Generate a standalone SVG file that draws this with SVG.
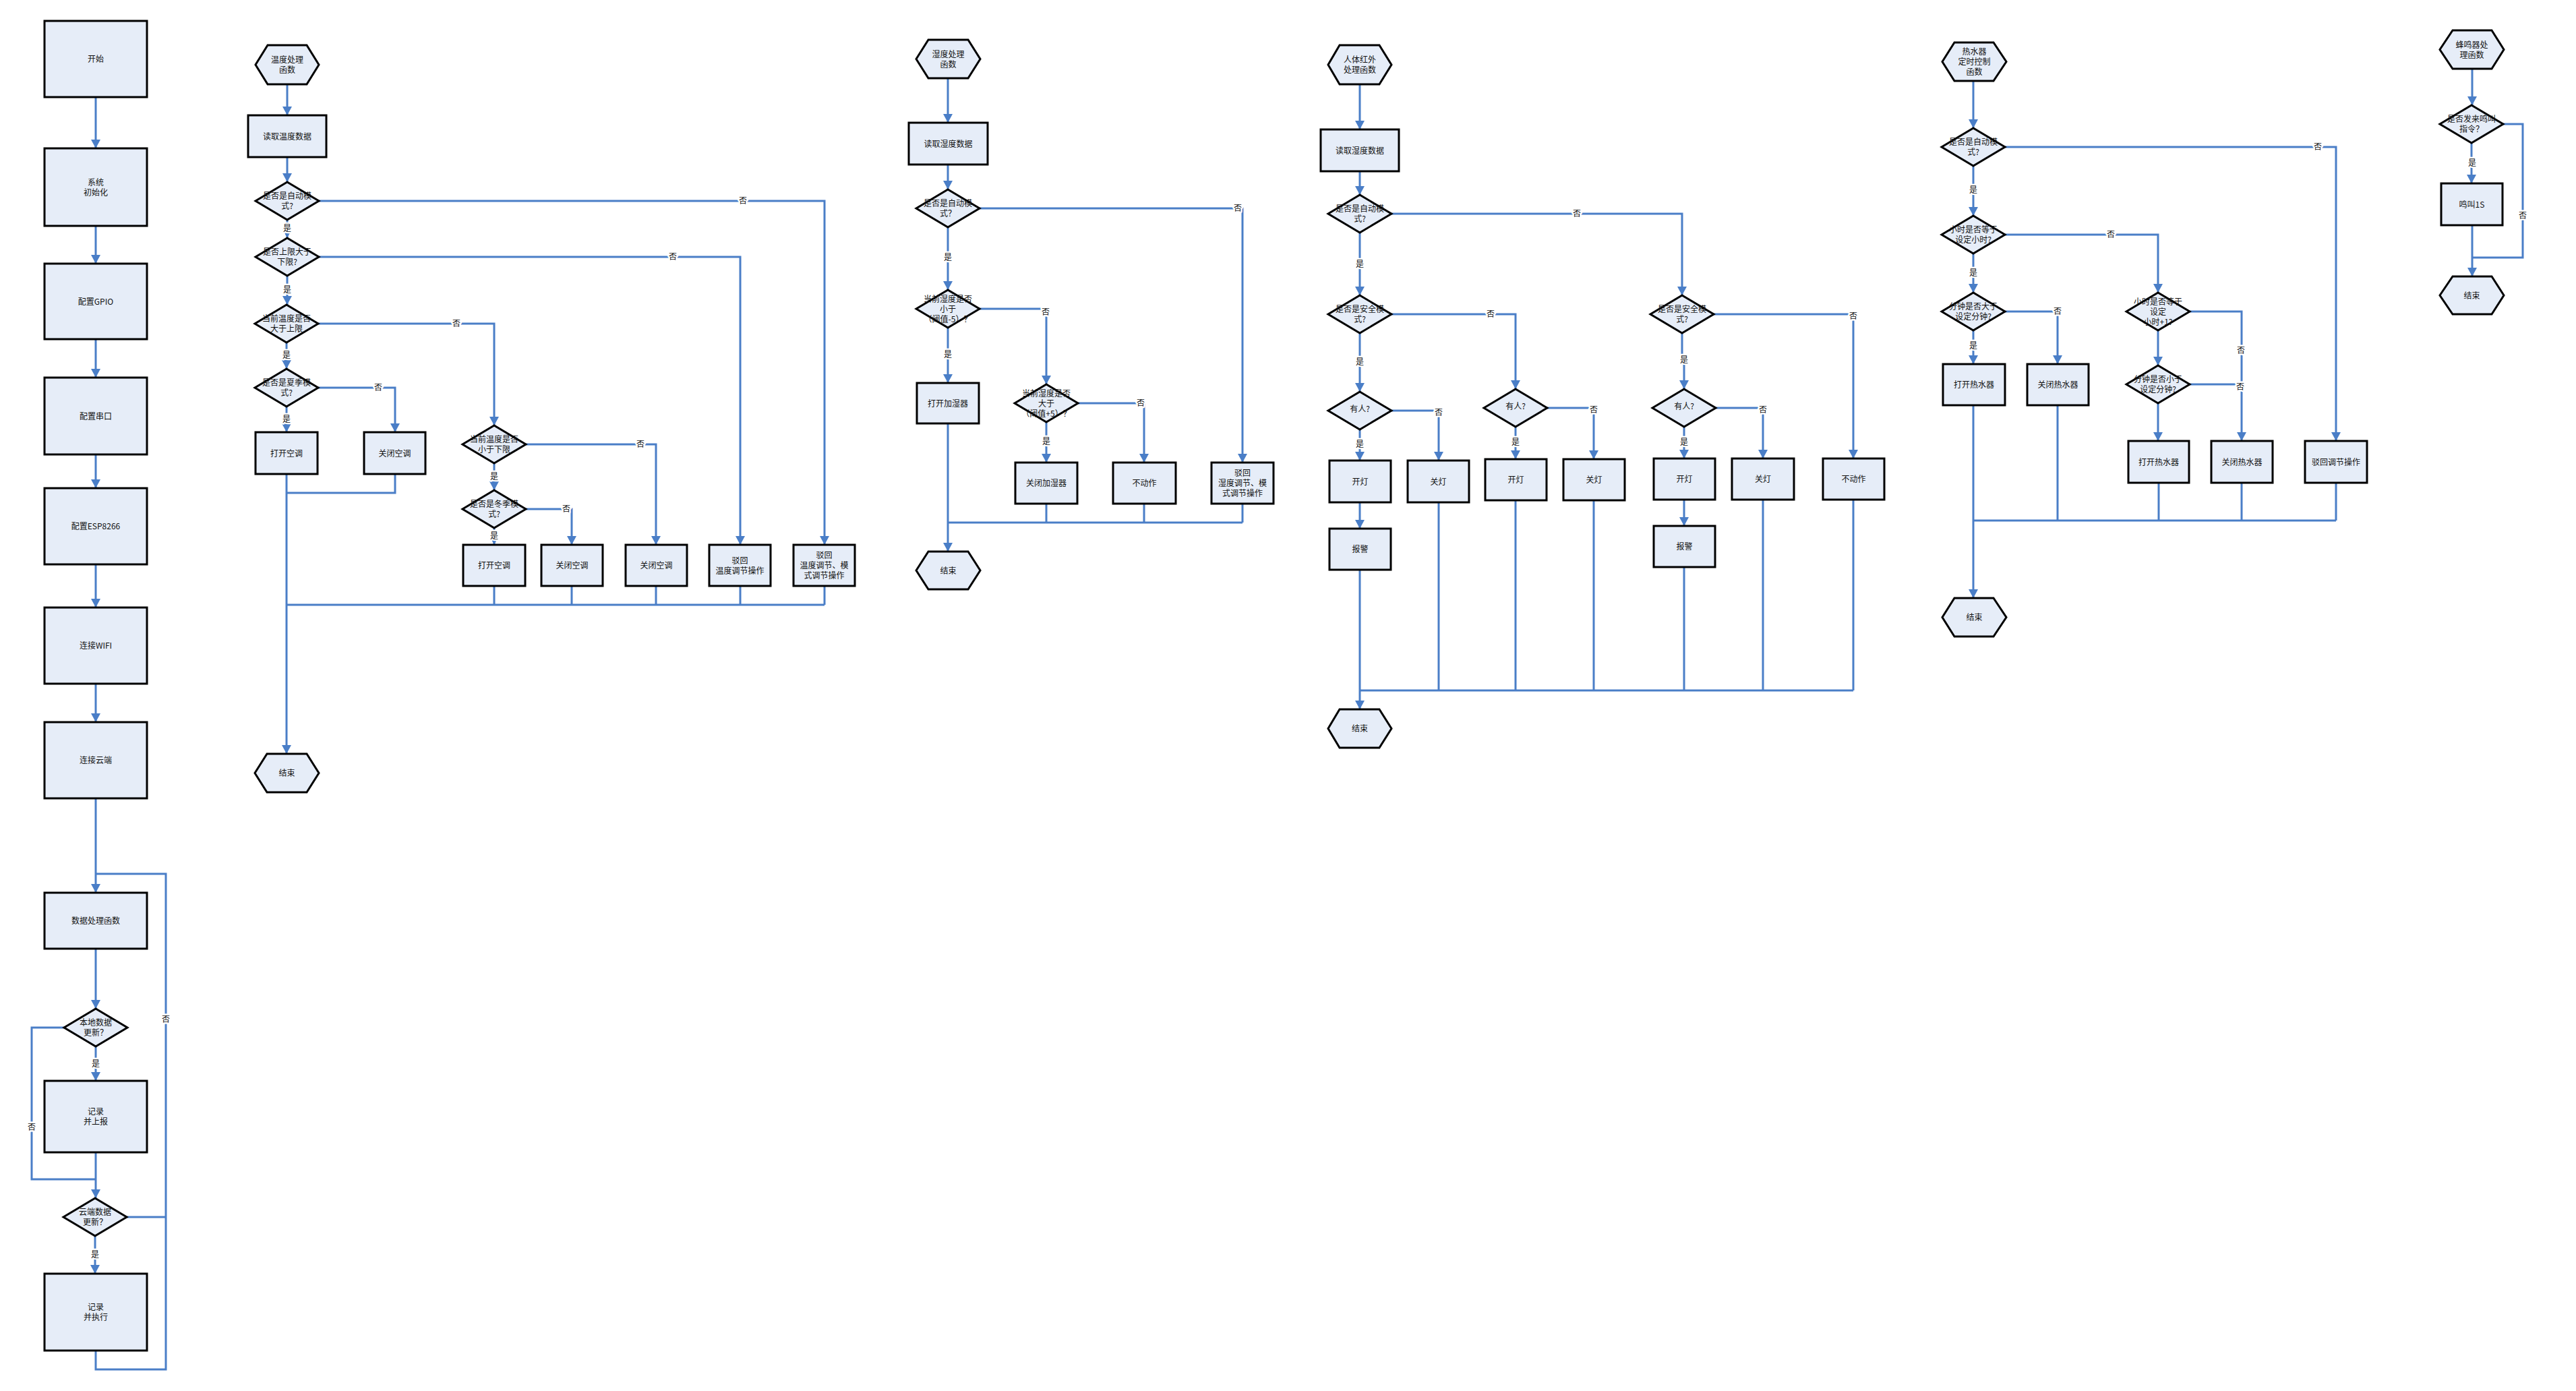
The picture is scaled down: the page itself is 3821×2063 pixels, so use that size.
<svg xmlns="http://www.w3.org/2000/svg" width="3821" height="2063" viewBox="0 0 3821 2063">
<style>
.box,.dec,.term{fill:#E6EDF8;stroke:#000;stroke-width:3;stroke-linejoin:miter}
.t{font-family:"Noto Sans CJK SC","Noto Sans",sans-serif;font-size:12px;fill:#111;text-anchor:middle}
.c{fill:none;stroke:#4A7EC7;stroke-width:3}
.ca{fill:none;stroke:#4A7EC7;stroke-width:3;marker-end:url(#ah)}
.lbl{font-family:"Noto Sans CJK SC","Noto Sans",sans-serif;font-size:12px;fill:#111;text-anchor:middle;paint-order:stroke;stroke:#fff;stroke-width:5px;stroke-linejoin:round}
</style>
<defs>
<marker id="ah" markerUnits="userSpaceOnUse" markerWidth="14" markerHeight="14" refX="13" refY="7" orient="auto"><path d="M0,0 L13,7 L0,14 z" fill="#4A7EC7"/></marker>
</defs>
<rect width="3821" height="2063" fill="#fff"/>

<g id="connectors">
<!-- main column -->
<path class="ca" d="M142,144 V220"/>
<path class="ca" d="M142,335 V391"/>
<path class="ca" d="M142,503 V560"/>
<path class="ca" d="M142,674 V724"/>
<path class="ca" d="M142,837 V901"/>
<path class="ca" d="M142,1014 V1071"/>
<path class="ca" d="M142,1184 V1324"/>
<path class="c" d="M142,2003 V2031 H246 V1296 H142"/>
<path class="c" d="M188,1805 H246"/>
<path class="ca" d="M142,1407 V1496"/>
<path class="ca" d="M142,1552 V1603"/>
<path class="c" d="M95,1524 H47 V1749 H142"/>
<path class="ca" d="M142,1709 V1777"/>
<path class="ca" d="M141,1833 V1889"/>
<text class="lbl" x="246" y="1516">否</text>
<text class="lbl" x="142" y="1582">是</text>
<text class="lbl" x="47" y="1676">否</text>
<text class="lbl" x="141" y="1865">是</text>

<!-- temperature -->
<path class="ca" d="M426,125 V171"/>
<path class="ca" d="M426,233 V270"/>
<path class="ca" d="M473,298 H1223 V808"/>
<path class="ca" d="M426,326 V353"/>
<path class="ca" d="M473,381 H1098 V808"/>
<path class="ca" d="M426,409 V452"/>
<path class="ca" d="M472,480 H733 V631"/>
<path class="ca" d="M425,508 V547"/>
<path class="ca" d="M472,575 H586 V641"/>
<path class="ca" d="M425,603 V641"/>
<path class="ca" d="M780,659 H973 V808"/>
<path class="ca" d="M733,687 V727"/>
<path class="ca" d="M780,755 H848 V808"/>
<path class="ca" d="M733,783 V808"/>
<path class="c" d="M586,703 V731 H425"/>
<path class="ca" d="M425,703 V1118"/>
<path class="c" d="M425,897 H1223 M733,869 V897 M848,869 V897 M973,869 V897 M1098,869 V897 M1223,869 V897"/>
<text class="lbl" x="1102" y="302">否</text>
<text class="lbl" x="426" y="343">是</text>
<text class="lbl" x="998" y="385">否</text>
<text class="lbl" x="426" y="434">是</text>
<text class="lbl" x="677" y="484">否</text>
<text class="lbl" x="425" y="531">是</text>
<text class="lbl" x="561" y="579">否</text>
<text class="lbl" x="425" y="626">是</text>
<text class="lbl" x="950" y="663">否</text>
<text class="lbl" x="733" y="711">是</text>
<text class="lbl" x="840" y="759">否</text>
<text class="lbl" x="733" y="799">是</text>

<!-- humidity -->
<path class="ca" d="M1406,116 V182"/>
<path class="ca" d="M1406,244 V281"/>
<path class="ca" d="M1453,309 H1843 V686"/>
<path class="ca" d="M1406,337 V430"/>
<path class="ca" d="M1453,458 H1552 V570"/>
<path class="ca" d="M1406,486 V568"/>
<path class="ca" d="M1599,598 H1697 V686"/>
<path class="ca" d="M1552,626 V686"/>
<path class="ca" d="M1406,628 V818"/>
<path class="c" d="M1406,775 H1843 M1552,747 V775 M1697,747 V775 M1843,747 V775"/>
<text class="lbl" x="1836" y="313">否</text>
<text class="lbl" x="1406" y="386">是</text>
<text class="lbl" x="1551" y="467">否</text>
<text class="lbl" x="1406" y="530">是</text>
<text class="lbl" x="1692" y="602">否</text>
<text class="lbl" x="1552" y="659">是</text>

<!-- PIR -->
<path class="ca" d="M2017,125 V192"/>
<path class="ca" d="M2017,254 V289"/>
<path class="ca" d="M2064,317 H2495 V438"/>
<path class="ca" d="M2017,345 V438"/>
<path class="ca" d="M2064,466 H2248 V577"/>
<path class="ca" d="M2017,494 V581"/>
<path class="ca" d="M2542,466 H2749 V680"/>
<path class="ca" d="M2495,494 V528 H2498 V577"/>
<path class="ca" d="M2064,609 H2134 V683"/>
<path class="ca" d="M2017,637 V683"/>
<path class="ca" d="M2295,605 H2364 V681"/>
<path class="ca" d="M2248,633 V681"/>
<path class="ca" d="M2545,605 H2615 V680"/>
<path class="ca" d="M2498,633 V680"/>
<path class="ca" d="M2017,745 V784"/>
<path class="ca" d="M2498,741 V780"/>
<path class="ca" d="M2017,845 V1052"/>
<path class="c" d="M2017,1024 H2749 M2134,745 V1024 M2248,742 V1024 M2364,742 V1024 M2498,841 V1024 M2615,741 V1024 M2749,741 V1024"/>
<text class="lbl" x="2339" y="321">否</text>
<text class="lbl" x="2017" y="396">是</text>
<text class="lbl" x="2211" y="470">否</text>
<text class="lbl" x="2017" y="541">是</text>
<text class="lbl" x="2749" y="473">否</text>
<text class="lbl" x="2498" y="538">是</text>
<text class="lbl" x="2134" y="616">否</text>
<text class="lbl" x="2017" y="663">是</text>
<text class="lbl" x="2364" y="612">否</text>
<text class="lbl" x="2248" y="660">是</text>
<text class="lbl" x="2615" y="612">否</text>
<text class="lbl" x="2498" y="660">是</text>

<!-- water heater -->
<path class="ca" d="M2927,120 V190"/>
<path class="ca" d="M2974,218 H3465 V654"/>
<path class="ca" d="M2927,246 V320"/>
<path class="ca" d="M2974,348 H3201 V434"/>
<path class="ca" d="M2927,376 V434"/>
<path class="ca" d="M2974,462 H3052 V540"/>
<path class="ca" d="M2927,490 V540"/>
<path class="ca" d="M3201,490 V542"/>
<path class="ca" d="M3248,462 H3325 V654"/>
<path class="c" d="M3248,570 H3325"/>
<path class="ca" d="M3201,598 V654"/>
<path class="ca" d="M2927,601 V887"/>
<path class="c" d="M2927,772 H3465 M3052,601 V772 M3202,716 V772 M3325,716 V772 M3465,716 V772"/>
<text class="lbl" x="3438" y="222">否</text>
<text class="lbl" x="2927" y="286">是</text>
<text class="lbl" x="3131" y="352">否</text>
<text class="lbl" x="2927" y="409">是</text>
<text class="lbl" x="3052" y="466">否</text>
<text class="lbl" x="2927" y="517">是</text>
<text class="lbl" x="3324" y="524">否</text>
<text class="lbl" x="3323" y="578">否</text>

<!-- buzzer -->
<path class="ca" d="M3667,102 V156"/>
<path class="ca" d="M3666,212 V272"/>
<path class="c" d="M3713,184 H3742 V382 H3667"/>
<path class="ca" d="M3667,334 V410"/>
<text class="lbl" x="3667" y="246">是</text>
<text class="lbl" x="3742" y="324">否</text>
</g>

<!-- main column nodes -->
<g id="n_start"><rect class="box" x="66" y="31" width="152" height="113"/><text class="t" x="142" y="92">开始</text></g>
<g id="n_init"><rect class="box" x="66" y="220" width="152" height="115"/><text class="t"><tspan x="142" y="274.5">系统</tspan><tspan x="142" y="289.5">初始化</tspan></text></g>
<g id="n_gpio"><rect class="box" x="66" y="391" width="152" height="112"/><text class="t" x="142" y="451.5">配置GPIO</text></g>
<g id="n_uart"><rect class="box" x="66" y="560" width="152" height="114"/><text class="t" x="142" y="621.5">配置串口</text></g>
<g id="n_esp"><rect class="box" x="66" y="724" width="152" height="113"/><text class="t" x="142" y="785">配置ESP8266</text></g>
<g id="n_wifi"><rect class="box" x="66" y="901" width="152" height="113"/><text class="t" x="142" y="962">连接WIFI</text></g>
<g id="n_cloud"><rect class="box" x="66" y="1071" width="152" height="113"/><text class="t" x="142" y="1132">连接云端</text></g>
<g id="n_proc"><rect class="box" x="66" y="1324" width="152" height="83"/><text class="t" x="142" y="1370">数据处理函数</text></g>
<g id="n_local"><polygon class="dec" points="95,1524 142,1496 189,1524 142,1552"/><text class="t"><tspan x="142" y="1521">本地数据</tspan><tspan x="142" y="1536">更新？</tspan></text></g>
<g id="n_report"><rect class="box" x="66" y="1603" width="152" height="106"/><text class="t"><tspan x="142" y="1653">记录</tspan><tspan x="142" y="1668">并上报</tspan></text></g>
<g id="n_cloudq"><polygon class="dec" points="94,1805 141,1777 188,1805 141,1833"/><text class="t"><tspan x="141" y="1802">云端数据</tspan><tspan x="141" y="1817">更新？</tspan></text></g>
<g id="n_exec"><rect class="box" x="66" y="1889" width="152" height="114"/><text class="t"><tspan x="142" y="1943">记录</tspan><tspan x="142" y="1958">并执行</tspan></text></g>

<!-- temperature nodes -->
<g id="t_start"><polygon class="term" points="379,96 397,67 455,67 473,96 455,125 397,125"/><text class="t"><tspan x="426" y="93">温度处理</tspan><tspan x="426" y="108">函数</tspan></text></g>
<g id="t_read"><rect class="box" x="368" y="171" width="116" height="62"/><text class="t" x="426" y="206.5">读取温度数据</text></g>
<g id="t_auto"><polygon class="dec" points="379,298 426,270 473,298 426,326"/><text class="t"><tspan x="426" y="295">是否是自动模</tspan><tspan x="426" y="310">式?</tspan></text></g>
<g id="t_lim"><polygon class="dec" points="379,381 426,353 473,381 426,409"/><text class="t"><tspan x="426" y="378">是否上限大于</tspan><tspan x="426" y="393">下限?</tspan></text></g>
<g id="t_gt"><polygon class="dec" points="378,480 425,452 472,480 425,508"/><text class="t"><tspan x="425" y="477">当前温度是否</tspan><tspan x="425" y="492">大于上限</tspan></text></g>
<g id="t_summer"><polygon class="dec" points="378,575 425,547 472,575 425,603"/><text class="t"><tspan x="425" y="572">是否是夏季模</tspan><tspan x="425" y="587">式?</tspan></text></g>
<g id="t_on1"><rect class="box" x="379" y="641" width="92" height="62"/><text class="t" x="425" y="676.5">打开空调</text></g>
<g id="t_off1"><rect class="box" x="540" y="641" width="91" height="62"/><text class="t" x="585.5" y="676.5">关闭空调</text></g>
<g id="t_lt"><polygon class="dec" points="686,659 733,631 780,659 733,687"/><text class="t"><tspan x="733" y="656">当前温度是否</tspan><tspan x="733" y="671">小于下限</tspan></text></g>
<g id="t_winter"><polygon class="dec" points="686,755 733,727 780,755 733,783"/><text class="t"><tspan x="733" y="752">是否是冬季模</tspan><tspan x="733" y="767">式?</tspan></text></g>
<g id="t_on2"><rect class="box" x="687" y="808" width="92" height="61"/><text class="t" x="733" y="843">打开空调</text></g>
<g id="t_off2"><rect class="box" x="803" y="808" width="91" height="61"/><text class="t" x="848.5" y="843">关闭空调</text></g>
<g id="t_off3"><rect class="box" x="928" y="808" width="91" height="61"/><text class="t" x="973.5" y="843">关闭空调</text></g>
<g id="t_rej1"><rect class="box" x="1052" y="808" width="91" height="61"/><text class="t"><tspan x="1097.5" y="835.5">驳回</tspan><tspan x="1097.5" y="850.5">温度调节操作</tspan></text></g>
<g id="t_rej2"><rect class="box" x="1177" y="808" width="91" height="61"/><text class="t"><tspan x="1222.5" y="828">驳回</tspan><tspan x="1222.5" y="843">温度调节、模</tspan><tspan x="1222.5" y="858">式调节操作</tspan></text></g>
<g id="t_end"><polygon class="term" points="378,1146.5 396,1118 455,1118 473,1146.5 455,1175 396,1175"/><text class="t" x="425.5" y="1151">结束</text></g>

<!-- humidity nodes -->
<g id="h_start"><polygon class="term" points="1359,87.5 1377,59 1436,59 1454,87.5 1436,116 1377,116"/><text class="t"><tspan x="1406.5" y="84.5">湿度处理</tspan><tspan x="1406.5" y="99.5">函数</tspan></text></g>
<g id="h_read"><rect class="box" x="1348" y="182" width="117" height="62"/><text class="t" x="1406.5" y="217.5">读取湿度数据</text></g>
<g id="h_auto"><polygon class="dec" points="1359,309 1406,281 1453,309 1406,337"/><text class="t"><tspan x="1406" y="306">是否是自动模</tspan><tspan x="1406" y="321">式？</tspan></text></g>
<g id="h_low"><polygon class="dec" points="1359,458 1406,430 1453,458 1406,486"/><text class="t"><tspan x="1406" y="447.5">当前湿度是否</tspan><tspan x="1406" y="462.5">小于</tspan><tspan x="1406" y="477.5">（阈值-5）？</tspan></text></g>
<g id="h_on"><rect class="box" x="1360" y="568" width="92" height="60"/><text class="t" x="1406" y="602.5">打开加湿器</text></g>
<g id="h_high"><polygon class="dec" points="1505,598 1552,570 1599,598 1552,626"/><text class="t"><tspan x="1552" y="587.5">当前湿度是否</tspan><tspan x="1552" y="602.5">大于</tspan><tspan x="1552" y="617.5">（阈值+5）？</tspan></text></g>
<g id="h_off"><rect class="box" x="1506" y="686" width="92" height="61"/><text class="t" x="1552" y="721">关闭加湿器</text></g>
<g id="h_none"><rect class="box" x="1651" y="686" width="93" height="61"/><text class="t" x="1697.5" y="721">不动作</text></g>
<g id="h_rej"><rect class="box" x="1797" y="686" width="92" height="61"/><text class="t"><tspan x="1843" y="706">驳回</tspan><tspan x="1843" y="721">湿度调节、模</tspan><tspan x="1843" y="736">式调节操作</tspan></text></g>
<g id="h_end"><polygon class="term" points="1359,846 1377,818 1436,818 1454,846 1436,874 1377,874"/><text class="t" x="1406.5" y="850.5">结束</text></g>

<!-- PIR nodes -->
<g id="p_start"><polygon class="term" points="1970,96 1987,67 2046,67 2064,96 2046,125 1987,125"/><text class="t"><tspan x="2017" y="93">人体红外</tspan><tspan x="2017" y="108">处理函数</tspan></text></g>
<g id="p_read"><rect class="box" x="1959" y="192" width="116" height="62"/><text class="t" x="2017" y="227.5">读取湿度数据</text></g>
<g id="p_auto"><polygon class="dec" points="1970,317 2017,289 2064,317 2017,345"/><text class="t"><tspan x="2017" y="314">是否是自动模</tspan><tspan x="2017" y="329">式?</tspan></text></g>
<g id="p_safe1"><polygon class="dec" points="1970,466 2017,438 2064,466 2017,494"/><text class="t"><tspan x="2017" y="463">是否是安全模</tspan><tspan x="2017" y="478">式?</tspan></text></g>
<g id="p_safe2"><polygon class="dec" points="2448,466 2495,438 2542,466 2495,494"/><text class="t"><tspan x="2495" y="463">是否是安全模</tspan><tspan x="2495" y="478">式?</tspan></text></g>
<g id="p_who1"><polygon class="dec" points="1970,609 2017,581 2064,609 2017,637"/><text class="t" x="2017" y="611">有人?</text></g>
<g id="p_who2"><polygon class="dec" points="2201,605 2248,577 2295,605 2248,633"/><text class="t" x="2248" y="607">有人?</text></g>
<g id="p_who3"><polygon class="dec" points="2451,605 2498,577 2545,605 2498,633"/><text class="t" x="2498" y="607">有人?</text></g>
<g id="p_on1"><rect class="box" x="1972" y="683" width="91" height="62"/><text class="t" x="2017.5" y="718.5">开灯</text></g>
<g id="p_off1"><rect class="box" x="2088" y="683" width="91" height="62"/><text class="t" x="2133.5" y="718.5">关灯</text></g>
<g id="p_alarm1"><rect class="box" x="1972" y="784" width="91" height="61"/><text class="t" x="2017.5" y="819">报警</text></g>
<g id="p_on2"><rect class="box" x="2203" y="681" width="91" height="61"/><text class="t" x="2248.5" y="716">开灯</text></g>
<g id="p_off2"><rect class="box" x="2319" y="681" width="91" height="61"/><text class="t" x="2364.5" y="716">关灯</text></g>
<g id="p_on3"><rect class="box" x="2453" y="680" width="91" height="61"/><text class="t" x="2498.5" y="715">开灯</text></g>
<g id="p_off3"><rect class="box" x="2569" y="680" width="92" height="61"/><text class="t" x="2615" y="715">关灯</text></g>
<g id="p_alarm2"><rect class="box" x="2453" y="780" width="91" height="61"/><text class="t" x="2498.5" y="815">报警</text></g>
<g id="p_none"><rect class="box" x="2704" y="680" width="91" height="61"/><text class="t" x="2749.5" y="715">不动作</text></g>
<g id="p_end"><polygon class="term" points="1970,1080.5 1987,1052 2046,1052 2064,1080.5 2046,1109 1987,1109"/><text class="t" x="2017" y="1085">结束</text></g>

<!-- water heater nodes -->
<g id="w_start"><polygon class="term" points="2881,91.5 2899,63 2957,63 2976,91.5 2957,120 2899,120"/><text class="t"><tspan x="2928.5" y="81">热水器</tspan><tspan x="2928.5" y="96">定时控制</tspan><tspan x="2928.5" y="111">函数</tspan></text></g>
<g id="w_auto"><polygon class="dec" points="2880,218 2927,190 2974,218 2927,246"/><text class="t"><tspan x="2927" y="215">是否是自动模</tspan><tspan x="2927" y="230">式?</tspan></text></g>
<g id="w_hour"><polygon class="dec" points="2880,348 2927,320 2974,348 2927,376"/><text class="t"><tspan x="2927" y="345">小时是否等于</tspan><tspan x="2927" y="360">设定小时?</tspan></text></g>
<g id="w_min"><polygon class="dec" points="2880,462 2927,434 2974,462 2927,490"/><text class="t"><tspan x="2927" y="459">分钟是否大于</tspan><tspan x="2927" y="474">设定分钟?</tspan></text></g>
<g id="w_hour1"><polygon class="dec" points="3154,462 3201,434 3248,462 3201,490"/><text class="t"><tspan x="3201" y="451.5">小时是否等于</tspan><tspan x="3201" y="466.5">设定</tspan><tspan x="3201" y="481.5">小时+1?</tspan></text></g>
<g id="w_min2"><polygon class="dec" points="3154,570 3201,542 3248,570 3201,598"/><text class="t"><tspan x="3201" y="567">分钟是否小于</tspan><tspan x="3201" y="582">设定分钟?</tspan></text></g>
<g id="w_on1"><rect class="box" x="2882" y="540" width="92" height="61"/><text class="t" x="2928" y="575">打开热水器</text></g>
<g id="w_off1"><rect class="box" x="3007" y="540" width="91" height="61"/><text class="t" x="3052.5" y="575">关闭热水器</text></g>
<g id="w_on2"><rect class="box" x="3157" y="654" width="90" height="62"/><text class="t" x="3202" y="689.5">打开热水器</text></g>
<g id="w_off2"><rect class="box" x="3280" y="654" width="91" height="62"/><text class="t" x="3325.5" y="689.5">关闭热水器</text></g>
<g id="w_rej"><rect class="box" x="3419" y="654" width="92" height="62"/><text class="t" x="3465" y="689.5">驳回调节操作</text></g>
<g id="w_end"><polygon class="term" points="2881,915.5 2899,887 2957,887 2976,915.5 2957,944 2899,944"/><text class="t" x="2928.5" y="920">结束</text></g>

<!-- buzzer nodes -->
<g id="b_start"><polygon class="term" points="3619,73.5 3638,45 3696,45 3714,73.5 3696,102 3638,102"/><text class="t"><tspan x="3666.5" y="70.5">蜂鸣器处</tspan><tspan x="3666.5" y="85.5">理函数</tspan></text></g>
<g id="b_q"><polygon class="dec" points="3619,184 3666,156 3713,184 3666,212"/><text class="t"><tspan x="3666" y="181">是否发来鸣叫</tspan><tspan x="3666" y="196">指令？</tspan></text></g>
<g id="b_beep"><rect class="box" x="3621" y="272" width="91" height="62"/><text class="t" x="3666.5" y="307.5">鸣叫1S</text></g>
<g id="b_end"><polygon class="term" points="3619,438 3638,410 3696,410 3714,438 3696,466 3638,466"/><text class="t" x="3666.5" y="442.5">结束</text></g>
</svg>
